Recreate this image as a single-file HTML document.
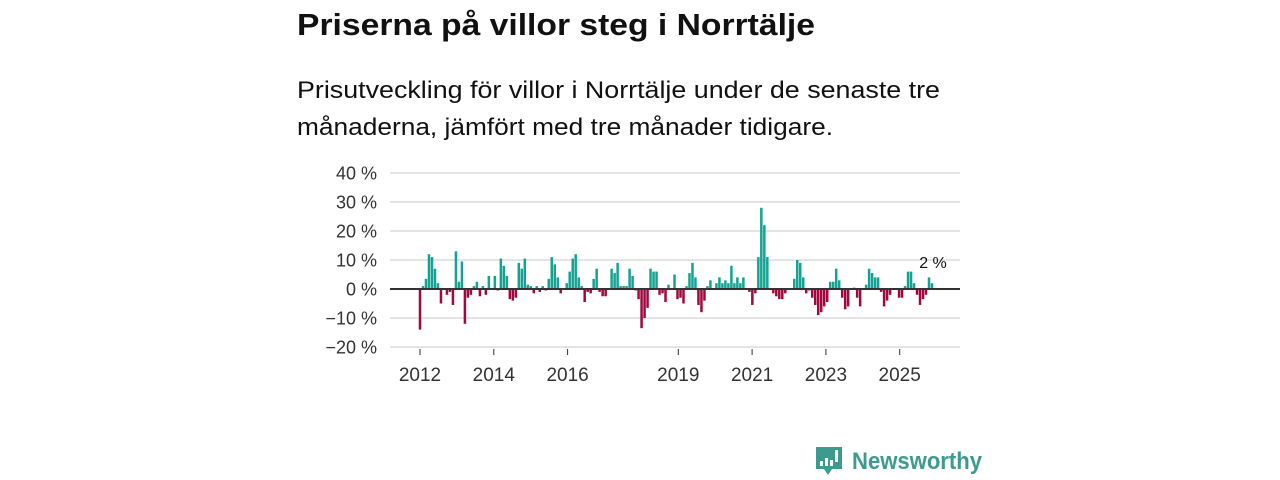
<!DOCTYPE html>
<html><head><meta charset="utf-8">
<style>
html,body{margin:0;padding:0;background:#fff;width:1280px;height:480px;overflow:hidden}
svg{display:block;font-family:"Liberation Sans","DejaVu Sans",sans-serif}
</style></head>
<body>
<svg width="1280" height="480" viewBox="0 0 1280 480">
<text x="297" y="35" font-size="31" font-weight="bold" fill="#111" textLength="518" lengthAdjust="spacingAndGlyphs">Priserna på villor steg i Norrtälje</text>
<text x="297" y="98" font-size="24" fill="#111" textLength="643" lengthAdjust="spacingAndGlyphs">Prisutveckling för villor i Norrtälje under de senaste tre</text>
<text x="297" y="135" font-size="24" fill="#111" textLength="536" lengthAdjust="spacingAndGlyphs">månaderna, jämfört med tre månader tidigare.</text>
<g id="grid"></g>
<g id="bars"></g>
<g id="axes"></g>
<g>
<path d="M816 447 h26 v22 h-10 l-4 6 l-4 -6 h-8 z" fill="#3d9a8f"/>
<rect x="820" y="461" width="3" height="5" fill="#fff"/>
<rect x="825" y="458" width="3" height="8" fill="#fff"/>
<rect x="830" y="460" width="3" height="6" fill="#fff"/>
<rect x="835" y="450" width="3" height="12" fill="#fff"/>
<text x="852" y="469" font-size="24" font-weight="bold" fill="#3d9a8f" textLength="130" lengthAdjust="spacingAndGlyphs">Newsworthy</text>
</g>
</svg>
<script>
const yTicks = [40, 30, 20, 10, 0, -10, -20];
const yTickLabels = ["40 %", "30 %", "20 %", "10 %", "0 %", "−10 %", "−20 %"];
const xTickYears = [2012, 2014, 2016, 2019, 2021, 2023, 2025];
const values = [
-14,1,3.5,12,11,7,2,-5,0,-2,-1,-5.5,13,2.5,9.5,-12,-3,-2,1,2.5,-2.5,1,-2,4.5,0,4.5,-0.5,10.5,8,4.5,-3.5,-4,-3,9,7,10.5,1.5,1,-1.5,1,-1,1,-0.5,3.5,11,8.5,4,-1.5,0,2,6,10.5,12,4,1,-4.5,-1,
-1.5,3.5,7,-1,-2.5,-2.5,0,7,5.5,9,1,1,1,7,4.5,-0.5,-3.5,-13.5,-10,-6.5,7,6,6,-2,-1.5,-4.5,1.5,0,5,-3.5,-3,-5,1,5.5,9,4,-5.5,-8,-4,1,3,0,2,4,2,3,2,8,2,4,2,4,0,-1,-5.5,-1.5,11,28,22,11,0,-1.5,-2.5,-3.5,
-3.5,-1.5,0,0,3.5,10,9,4,-1.5,-0.5,-3,-5.5,-9,-8,-6,-4.5,2.5,2.5,7,3,-3,-7,-6,0,0.5,-3,-6,0,1.5,7,5.5,4,4,-1,-6,-4,-2,0,0,-3,-3,1,6,6,2,-2,-5.5,-3.5,-2,4,2
];
const lastLabel = "2 %";
const NS = "http://www.w3.org/2000/svg";
const x0 = 390, x1 = 960;
const barStart = 420, barEnd = 932;
function xScale(year){ return 420 + (year - 2012) * 36.9; }
function barX(i){ return barStart + i * (barEnd - barStart) / (values.length - 1); }
function yScale(v){ return 289 - v * 2.9; }
function mk(tag, attrs){ const e = document.createElementNS(NS, tag); for (const k in attrs) e.setAttribute(k, attrs[k]); return e; }
const grid = document.getElementById('grid'), bars = document.getElementById('bars'), axes = document.getElementById('axes');
yTicks.forEach((t, i) => {
  if (t !== 0) {
    const l = mk('line', {x1: x0, x2: x1, y1: yScale(t), y2: yScale(t), stroke: '#dcdcdc', 'stroke-width': 1.5});
    
    
    grid.appendChild(l);
  }
  const tx = mk('text', {x: 377, y: yScale(t) + 6.5, 'font-size': 18, fill: '#333', 'text-anchor': 'end'});
  tx.textContent = yTickLabels[i];
  
  
  axes.appendChild(tx);
});
const bw = 2.5;
values.forEach((v, i) => {
  const xc = barX(i);
  const y = Math.min(yScale(v), yScale(0)), h = Math.abs(yScale(v) - yScale(0));
  const r = mk('rect', {x: xc - bw / 2, y: y, width: bw, height: h, fill: v >= 0 ? '#14a393' : '#a1083e'});
  
  
  bars.appendChild(r);
});
const zl = mk('line', {x1: x0, x2: x1, y1: yScale(0), y2: yScale(0), stroke: '#333', 'stroke-width': 2});


axes.appendChild(zl);
const lastX = barX(values.length - 1);
const ll = mk('text', {x: lastX + 1, y: yScale(values[values.length - 1]) - 15, 'font-size': 16, fill: '#111', 'text-anchor': 'middle'});
ll.textContent = lastLabel;


axes.appendChild(ll);
xTickYears.forEach(yr => {
  const x = xScale(yr);
  const tk = mk('line', {x1: x, x2: x, y1: 349, y2: 355, stroke: '#333', 'stroke-width': 1});
  
  
  axes.appendChild(tk);
  const tx = mk('text', {x: x, y: 381, 'font-size': 19, fill: '#333', 'text-anchor': 'middle'});
  tx.textContent = yr;
  
  
  axes.appendChild(tx);
});
</script>
</body></html>
